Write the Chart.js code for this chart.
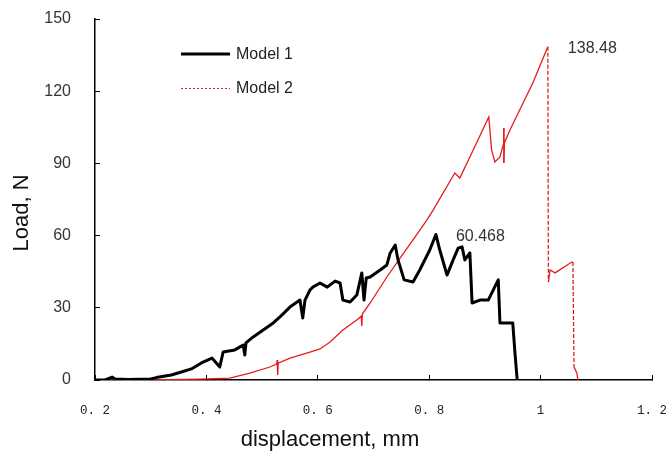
<!DOCTYPE html>
<html>
<head>
<meta charset="utf-8">
<title>Load - displacement</title>
<script src="https://cdn.jsdelivr.net/npm/chart.js@4.4.1/dist/chart.umd.min.js"></script>
<style>
    html, body { margin: 0; padding: 0; background: #fff; }
    #chart { display: block; }
</style>
</head>
<body>
<canvas id="chart" width="666" height="457"></canvas>
<script>
// データ
const model1X = [0.200, 0.218, 0.231, 0.236, 0.260, 0.300, 0.310, 0.337, 0.355, 0.373, 0.391, 0.410, 0.424, 0.430, 0.451, 0.466,
    0.469, 0.471, 0.484, 0.502, 0.520, 0.532, 0.550, 0.568, 0.573, 0.577, 0.586, 0.591, 0.604, 0.617, 0.631, 0.640,
    0.645, 0.658, 0.670, 0.679, 0.683, 0.687, 0.694, 0.712, 0.724, 0.730, 0.739, 0.744, 0.755, 0.771, 0.783, 0.801,
    0.812, 0.819, 0.832, 0.843, 0.852, 0.859, 0.864, 0.873, 0.877, 0.891, 0.906, 0.924, 0.927, 0.950, 0.954, 0.958];
const model1Y = [0, 0, 1.2, 0.4, 0.2, 0.4, 1.0, 2.1, 3.3, 4.6, 7.1, 9.1, 5.4, 11.6, 12.5, 14.5,
    10.4, 15.4, 17.9, 20.8, 23.7, 26.2, 30.3, 33.2, 25.8, 33.2, 37.4, 38.6, 40.3, 38.6, 41.1, 40.3,
    33.2, 32.4, 35.3, 44.5, 33.2, 42.4, 42.8, 45.7, 47.8, 52.8, 56.1, 49.9, 41.6, 40.7, 45.7, 54.0,
    60.468, 54.0, 43.6, 49.9, 54.8, 55.3, 49.9, 52.8, 32.0, 33.2, 33.2, 41.6, 23.7, 23.7, 11.2, 0];

const model2X = [0.200, 0.299, 0.389, 0.442, 0.478, 0.514, 0.526, 0.527, 0.528, 0.529, 0.550, 0.586, 0.604, 0.622, 0.645, 0.670,
    0.678, 0.679, 0.680, 0.694, 0.724, 0.748, 0.771, 0.796, 0.807, 0.846, 0.855, 0.879, 0.907, 0.912, 0.918, 0.927,
    0.933, 0.934, 0.934, 0.935, 0.945, 0.986, 1.013, 1.014, 1.017, 1.026, 1.056, 1.058, 1.060, 1.065, 1.067];
const model2Y = [0, 0, 0.4, 0.8, 2.9, 5.4, 6.6, 8.3, 2.1, 7.0, 9.1, 11.6, 12.9, 15.8, 20.8, 24.9,
    26.5, 22.4, 27.4, 32.0, 42.8, 50.7, 58.2, 66.5, 70.6, 86.0, 83.9, 95.6, 109.3, 95.6, 90.6, 92.7,
    97.8, 104.7, 90.2, 98.5, 103.9, 123.4, 138.48, 40.7, 45.7, 44.5, 49.0, 49.0, 5.4, 2.9, 0];

// ピーク値ラベル
const peakX = [0.812, 1.013];
const peakY = [60.468, 138.48];
const peakText = ['60.468', '138.48'];

const seriesNames = ['Model 1', 'Model 2'];
const yTicks = [0, 30, 60, 90, 120, 150];

const toPoints = (xs, ys) => xs.map((x, i) => ({ x: x, y: ys[i] }));

// ほぼ垂直な区間は破線で描く
const verticalDash = ctx => {
    const dx = Math.abs(ctx.p1.x - ctx.p0.x);
    const dy = Math.abs(ctx.p1.y - ctx.p0.y);
    return (dx < 2 && dy > 25) ? [4, 2] : undefined;
};

/**
 * 凡例・軸タイトル・ピーク値を描く
 */
const annotations = {
    id: 'annotations',
    afterDatasetsDraw(chart) {
        const { ctx, scales: { x, y } } = chart;
        ctx.save();

        // ピーク値
        ctx.font = '16px "Liberation Sans", Arial, sans-serif';
        ctx.fillStyle = '#333';
        ctx.textAlign = 'left';
        ctx.textBaseline = 'middle';
        peakText.forEach((t, i) => {
            ctx.fillText(t, x.getPixelForValue(peakX[i]) + 20, y.getPixelForValue(peakY[i]) + 2);
        });

        // 凡例
        ctx.strokeStyle = '#000';
        ctx.lineWidth = 3;
        ctx.beginPath();
        ctx.moveTo(181, 54);
        ctx.lineTo(230, 54);
        ctx.stroke();
        ctx.strokeStyle = '#e02020';
        ctx.lineWidth = 1;
        ctx.setLineDash([2, 2]);
        ctx.beginPath();
        ctx.moveTo(181, 88.5);
        ctx.lineTo(230, 88.5);
        ctx.stroke();
        ctx.setLineDash([]);
        ctx.fillStyle = '#222';
        ctx.fillText(seriesNames[0], 236, 55);
        ctx.fillText(seriesNames[1], 236, 89);

        // 軸タイトル
        ctx.font = '22px "Liberation Sans", Arial, sans-serif';
        ctx.fillStyle = '#111';
        ctx.textAlign = 'center';
        ctx.fillText('displacement, mm', 330, 440);
        ctx.translate(22, 213);
        ctx.rotate(-Math.PI / 2);
        ctx.fillText('Load, N', 0, 0);

        ctx.restore();
    }
};

new Chart(document.getElementById('chart'), {
    type: 'line',
    data: {
        datasets: [{
            label: seriesNames[0],
            data: toPoints(model1X, model1Y),
            borderColor: '#000',
            borderWidth: 3,
            borderJoinStyle: 'round',
            pointRadius: 0,
            tension: 0
        }, {
            label: seriesNames[1],
            data: toPoints(model2X, model2Y),
            borderColor: '#e41c1c',
            borderWidth: 1.3,
            pointRadius: 0,
            tension: 0,
            segment: { borderDash: verticalDash }
        }]
    },
    options: {
        responsive: false,
        animation: false,
        layout: { padding: { top: 19, right: 14, left: 0, bottom: 0 } },
        plugins: {
            legend: { display: false },
            tooltip: { enabled: false }
        },
        scales: {
            x: {
                type: 'linear',
                min: 0.2,
                max: 1.2,
                afterFit: scale => {
                    scale.height = 77;
                    scale.paddingLeft = 0;
                    scale.paddingRight = 0;
                },
                border: { display: true, color: '#000', width: 1.5 },
                grid: { drawOnChartArea: false, color: '#000', tickLength: -5 },
                ticks: {
                    stepSize: 0.2,
                    padding: 28,
                    color: '#222',
                    font: { family: '"Liberation Mono", monospace', size: 12.5 },
                    callback: v => {
                        const r = Math.round(v * 10) / 10;
                        return Number.isInteger(r) ? String(r) : r.toFixed(1).replace('.', '. ');
                    }
                }
            },
            y: {
                min: 0,
                max: 150,
                afterFit: scale => {
                    scale.width = 95;
                    scale.paddingTop = 0;
                    scale.paddingBottom = 0;
                },
                afterBuildTicks: scale => { scale.ticks = yTicks.map(v => ({ value: v })); },
                border: { display: true, color: '#000', width: 1.5 },
                grid: { drawOnChartArea: false, color: '#000', tickLength: -5 },
                ticks: {
                    padding: 29,
                    color: '#333',
                    font: { family: '"Liberation Sans", Arial, sans-serif', size: 16 }
                }
            }
        }
    },
    plugins: [annotations]
});
</script>
</body>
</html>
